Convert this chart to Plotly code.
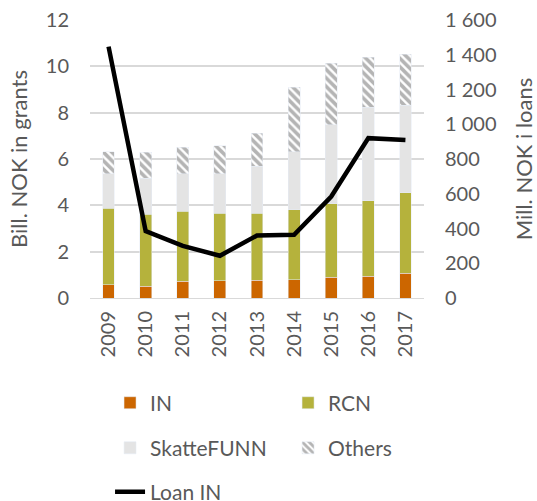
import plotly.graph_objects as go

# -- data
years = ['2009', '2010', '2011', '2012', '2013', '2014', '2015', '2016', '2017']
grants_in = [0.57, 0.50, 0.72, 0.75, 0.76, 0.79, 0.89, 0.93, 1.06]
grants_rcn = [3.31, 3.12, 3.02, 2.90, 2.89, 3.02, 3.18, 3.27, 3.49]
grants_skattefunn = [1.48, 1.55, 1.62, 1.71, 2.03, 2.51, 3.40, 4.03, 3.77]
grants_others = [0.96, 1.12, 1.15, 1.21, 1.43, 2.77, 2.66, 2.16, 2.21]
loan_in = [1447, 385, 300, 243, 360, 364, 584, 920, 910]

text_col = '#595959'
family = 'Lato, Open Sans, sans-serif'
tick_font = dict(family=family, size=20, color=text_col)
title_font = dict(family=family, size=22, color=text_col)
legend_font = dict(family=family, size=21, color=text_col)

fig = go.Figure()

# -- stacked grant bars (left axis), one legend box per entry so the
# -- 2-column layout of the original can be placed exactly
fig.add_trace(go.Bar(x=years, y=grants_in, name='IN', marker_color='#CC6600',
                     legend='legend'))
fig.add_trace(go.Bar(x=years, y=grants_rcn, name='RCN', marker_color='#B5B23C',
                     legend='legend2'))
fig.add_trace(go.Bar(x=years, y=grants_skattefunn, name='SkatteFUNN',
                     marker_color='#E4E4E4', legend='legend3'))
fig.add_trace(go.Bar(x=years, y=grants_others, name='Others',
                     marker=dict(color='white',
                                 pattern=dict(shape='\\', fgcolor='#6A6A6A',
                                              bgcolor='white', size=6,
                                              solidity=0.6)),
                     legend='legend4'))

# -- loans line (right axis)
fig.add_trace(go.Scatter(x=years, y=loan_in, name='Loan IN', yaxis='y2',
                         mode='lines', line=dict(color='black', width=4.5),
                         legend='legend5'))

legend_style = dict(orientation='h', xanchor='left', yanchor='middle',
                    font=legend_font, bgcolor='rgba(0,0,0,0)')
col1, col2 = 0.06, 0.593
row1, row2, row3 = -0.378, -0.54, -0.698

fig.update_layout(
    barmode='stack',
    bargap=0.68,
    width=537, height=501,
    margin=dict(l=90, r=113, t=20, b=203, autoexpand=False),
    plot_bgcolor='white', paper_bgcolor='white',
    font=tick_font,
    separators=', ',
    showlegend=True,
    xaxis=dict(type='category', tickangle=-90, showgrid=False,
               showline=True, linecolor='#D9D9D9', ticks='',
               tickfont=tick_font, automargin=False, ticklabelstandoff=4),
    yaxis=dict(title=dict(text='Bill. NOK in grants', font=title_font,
                          standoff=12),
               range=[0, 12], dtick=2, showgrid=True, gridcolor='#D9D9D9',
               gridwidth=1.5, zeroline=False, ticks='', tickfont=tick_font,
               automargin=False, ticklabelstandoff=20),
    yaxis2=dict(title=dict(text='Mill. NOK i loans', font=title_font,
                           standoff=21),
                overlaying='y', side='right', range=[0, 1600], dtick=200,
                separatethousands=True, showgrid=False, zeroline=False,
                ticks='', tickfont=tick_font, automargin=False,
                ticklabelstandoff=20),
    legend=dict(x=col1, y=row1, **legend_style),
    legend2=dict(x=col2, y=row1, **legend_style),
    legend3=dict(x=col1, y=row2, **legend_style),
    legend4=dict(x=col2, y=row2, **legend_style),
    legend5=dict(x=col1, y=row3, **legend_style),
)

# -- drop the default page margin so the figure sits at the window's corner
fig.write_html("out.html", config={'displayModeBar': False},
               post_script="document.body.style.margin='0';")
